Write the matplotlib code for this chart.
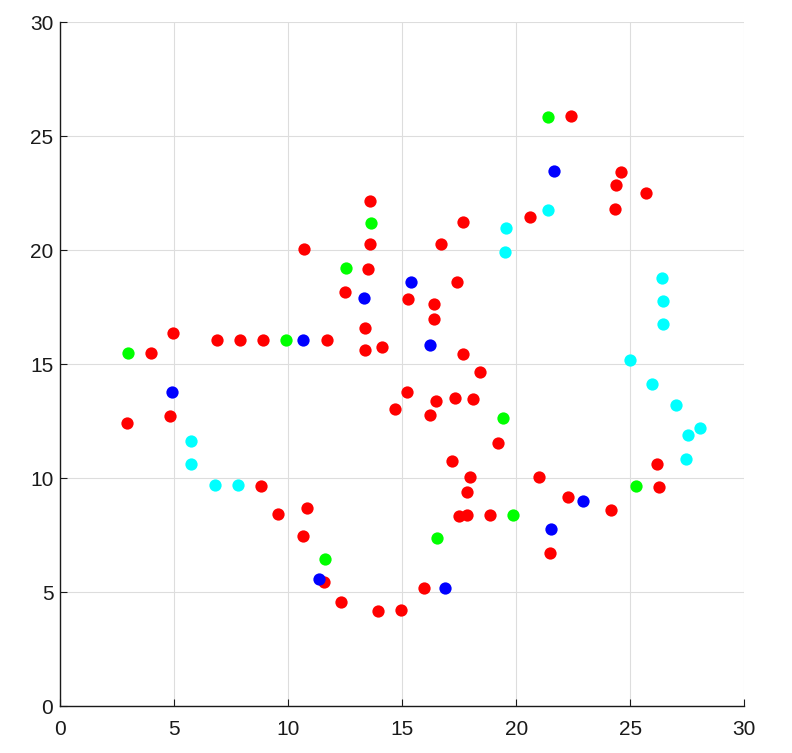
import matplotlib
matplotlib.use("Agg")
import matplotlib.pyplot as plt

# points, par couleur
red_x = [13.60, 13.60, 10.69, 13.51, 12.49, 13.36, 4.96, 6.89, 7.88, 8.90,
         11.71, 13.36, 14.12, 3.99, 22.41, 24.61, 24.39, 25.69, 24.34, 20.61,
         17.68, 16.70, 17.41, 15.26, 16.40, 16.40, 17.68, 18.41, 15.22, 16.49,
         17.32, 18.11, 14.68, 16.21, 19.21, 17.18, 26.16, 17.97, 21.01, 26.27,
         17.84, 22.25, 24.15, 17.47, 17.82, 18.85, 21.49, 15.95, 14.94, 4.82,
         2.93, 8.80, 9.55, 10.83, 10.63, 11.58, 12.31, 13.95]
red_y = [22.15, 20.26, 20.03, 19.15, 18.16, 16.58, 16.36, 16.04, 16.05, 16.05,
         16.05, 15.63, 15.75, 15.48, 25.88, 23.42, 22.85, 22.50, 21.80, 21.45,
         21.23, 20.26, 18.60, 17.85, 17.64, 16.97, 15.44, 14.66, 13.79, 13.39,
         13.52, 13.48, 13.03, 12.76, 11.54, 10.76, 10.63, 10.04, 10.04, 9.60,
         9.39, 9.17, 8.61, 8.33, 8.38, 8.38, 6.71, 5.18, 4.22, 12.72,
         12.41, 9.65, 8.42, 8.70, 7.47, 5.42, 4.57, 4.17]

green_x = [13.63, 12.53, 9.90, 2.98, 21.40, 19.43, 25.25, 19.84, 16.51, 11.61]
green_y = [21.18, 19.21, 16.05, 15.48, 25.83, 12.63, 9.63, 8.38, 7.38, 6.45]

blue_x = [13.32, 10.66, 4.89, 21.65, 15.38, 16.21, 22.94, 21.54, 16.89, 11.35]
blue_y = [17.89, 16.05, 13.77, 23.46, 18.60, 15.83, 9.00, 7.78, 5.18, 5.57]

cyan_x = [21.40, 19.55, 19.50, 26.40, 26.43, 26.43, 25.00, 25.96, 27.00, 28.06,
          27.54, 27.44, 5.75, 5.75, 6.80, 7.81]
cyan_y = [21.75, 20.96, 19.91, 18.77, 17.76, 16.75, 15.19, 14.12, 13.18, 12.19,
          11.90, 10.83, 11.62, 10.63, 9.68, 9.68]

ticks = [0, 5, 10, 15, 20, 25, 30]

plt.rcParams['font.family'] = ['Liberation Sans', 'DejaVu Sans']

fig = plt.figure(figsize=(7.92, 7.53), dpi=100)
ax = fig.add_axes([60.3 / 792, 47 / 753, 684 / 792, 684 / 753])

ms = 78
ax.scatter(red_x, red_y, s=ms, c='#ff0000', linewidths=0, zorder=3)
ax.scatter(green_x, green_y, s=ms, c='#00ff00', linewidths=0, zorder=3)
ax.scatter(blue_x, blue_y, s=ms, c='#0000ff', linewidths=0, zorder=3)
ax.scatter(cyan_x, cyan_y, s=ms, c='#00ffff', linewidths=0, zorder=3)

ax.set_xlim(0, 30)
ax.set_ylim(0, 30)
ax.set_xticks(ticks)
ax.set_yticks(ticks)
ax.grid(True, color='#dddddd', linewidth=0.8)
ax.set_axisbelow(True)

ax.spines['top'].set_visible(False)
ax.spines['right'].set_visible(False)
for s in ['left', 'bottom']:
    ax.spines[s].set_color('#1a1a1a')
    ax.spines[s].set_linewidth(1.0)

ax.tick_params(direction='in', length=5, width=0.8, colors='#1a1a1a',
               labelsize=15)
ax.tick_params(axis='x', pad=10)
ax.tick_params(axis='y', pad=5)

fig.savefig('out.png', dpi=100)
